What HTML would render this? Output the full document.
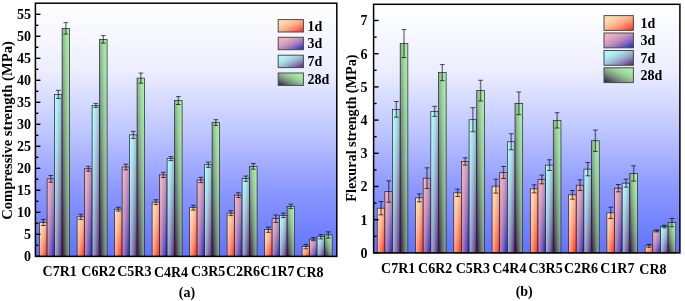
<!DOCTYPE html>
<html><head><meta charset="utf-8"><style>
html,body{margin:0;padding:0;background:#fff;}
body{width:685px;height:301px;overflow:hidden;}
svg{display:block;font-family:"Liberation Serif", serif;will-change:transform;filter:blur(0.45px);}
</style></head><body>
<svg width="685" height="301" viewBox="0 0 685 301">
<defs><linearGradient id="ag0" x1="0" y1="0" x2="1" y2="1"><stop offset="0" stop-color="#fde0b4"/><stop offset="0.05" stop-color="#fde0b4"/><stop offset="0.1" stop-color="#fddeb2"/><stop offset="0.15" stop-color="#fddcb0"/><stop offset="0.2" stop-color="#fdd8ad"/><stop offset="0.25" stop-color="#fdd4aa"/><stop offset="0.3" stop-color="#fdcfa5"/><stop offset="0.35" stop-color="#fdc8a0"/><stop offset="0.4" stop-color="#fdc19a"/><stop offset="0.45" stop-color="#fdb993"/><stop offset="0.5" stop-color="#feb08b"/><stop offset="0.55" stop-color="#fea682"/><stop offset="0.6" stop-color="#fe9b79"/><stop offset="0.65" stop-color="#fe8f6f"/><stop offset="0.7" stop-color="#fe8264"/><stop offset="0.75" stop-color="#fe7458"/><stop offset="0.8" stop-color="#fe654b"/><stop offset="0.85" stop-color="#fe553e"/><stop offset="0.9" stop-color="#ff442f"/><stop offset="0.95" stop-color="#ff3320"/><stop offset="1" stop-color="#ff2010"/></linearGradient>
<linearGradient id="ad0" x1="0" y1="0" x2="1" y2="1"><stop offset="0" stop-color="#fde0b4"/><stop offset="0.05" stop-color="#fddfb3"/><stop offset="0.1" stop-color="#fdddb1"/><stop offset="0.15" stop-color="#fddaaf"/><stop offset="0.2" stop-color="#fdd5ab"/><stop offset="0.25" stop-color="#fdd0a6"/><stop offset="0.3" stop-color="#fdcaa1"/><stop offset="0.35" stop-color="#fdc39b"/><stop offset="0.4" stop-color="#fdbb94"/><stop offset="0.45" stop-color="#fdb28d"/><stop offset="0.5" stop-color="#fea985"/><stop offset="0.55" stop-color="#fe9f7c"/><stop offset="0.6" stop-color="#fe9373"/><stop offset="0.65" stop-color="#fe8868"/><stop offset="0.7" stop-color="#fe7b5e"/><stop offset="0.75" stop-color="#fe6e52"/><stop offset="0.8" stop-color="#fe6046"/><stop offset="0.85" stop-color="#fe513a"/><stop offset="0.9" stop-color="#ff412c"/><stop offset="0.95" stop-color="#ff311e"/><stop offset="1" stop-color="#ff2010"/></linearGradient>
<linearGradient id="ag1" x1="0" y1="0" x2="1" y2="1"><stop offset="0" stop-color="#f4b4bc"/><stop offset="0.05" stop-color="#f3b4bc"/><stop offset="0.1" stop-color="#f2b2bc"/><stop offset="0.15" stop-color="#efb1bc"/><stop offset="0.2" stop-color="#ebaebc"/><stop offset="0.25" stop-color="#e6aabc"/><stop offset="0.3" stop-color="#e0a6bc"/><stop offset="0.35" stop-color="#d9a1bc"/><stop offset="0.4" stop-color="#d19bbd"/><stop offset="0.45" stop-color="#c895bd"/><stop offset="0.5" stop-color="#be8ebd"/><stop offset="0.55" stop-color="#b285bd"/><stop offset="0.6" stop-color="#a67dbd"/><stop offset="0.65" stop-color="#9873be"/><stop offset="0.7" stop-color="#8969be"/><stop offset="0.75" stop-color="#795dbe"/><stop offset="0.8" stop-color="#6851bf"/><stop offset="0.85" stop-color="#5645bf"/><stop offset="0.9" stop-color="#4337bf"/><stop offset="0.95" stop-color="#2f29c0"/><stop offset="1" stop-color="#1a1ac0"/></linearGradient>
<linearGradient id="ad1" x1="0" y1="0" x2="1" y2="1"><stop offset="0" stop-color="#f4b4bc"/><stop offset="0.05" stop-color="#f3b3bc"/><stop offset="0.1" stop-color="#f1b2bc"/><stop offset="0.15" stop-color="#edafbc"/><stop offset="0.2" stop-color="#e8acbc"/><stop offset="0.25" stop-color="#e2a7bc"/><stop offset="0.3" stop-color="#dba2bc"/><stop offset="0.35" stop-color="#d39dbd"/><stop offset="0.4" stop-color="#ca96bd"/><stop offset="0.45" stop-color="#c08fbd"/><stop offset="0.5" stop-color="#b588bd"/><stop offset="0.55" stop-color="#aa7fbd"/><stop offset="0.6" stop-color="#9d77be"/><stop offset="0.65" stop-color="#906dbe"/><stop offset="0.7" stop-color="#8163be"/><stop offset="0.75" stop-color="#7258be"/><stop offset="0.8" stop-color="#624dbf"/><stop offset="0.85" stop-color="#5141bf"/><stop offset="0.9" stop-color="#4035bf"/><stop offset="0.95" stop-color="#2d28c0"/><stop offset="1" stop-color="#1a1ac0"/></linearGradient>
<linearGradient id="ag2" x1="0" y1="0" x2="1" y2="1"><stop offset="0" stop-color="#b4fafa"/><stop offset="0.05" stop-color="#b4f9fa"/><stop offset="0.1" stop-color="#b3f8f9"/><stop offset="0.15" stop-color="#b2f5f7"/><stop offset="0.2" stop-color="#b0f1f4"/><stop offset="0.25" stop-color="#aeecf1"/><stop offset="0.3" stop-color="#ace5ee"/><stop offset="0.35" stop-color="#a9dee9"/><stop offset="0.4" stop-color="#a6d5e4"/><stop offset="0.45" stop-color="#a2cbde"/><stop offset="0.5" stop-color="#9ec0d8"/><stop offset="0.55" stop-color="#99b4d0"/><stop offset="0.6" stop-color="#94a7c8"/><stop offset="0.65" stop-color="#8e99c0"/><stop offset="0.7" stop-color="#8889b6"/><stop offset="0.75" stop-color="#8179ac"/><stop offset="0.8" stop-color="#7a67a2"/><stop offset="0.85" stop-color="#735496"/><stop offset="0.9" stop-color="#6b408a"/><stop offset="0.95" stop-color="#632a7d"/><stop offset="1" stop-color="#5a1470"/></linearGradient>
<linearGradient id="ad2" x1="0" y1="0" x2="1" y2="1"><stop offset="0" stop-color="#b4fafa"/><stop offset="0.05" stop-color="#b4f9f9"/><stop offset="0.1" stop-color="#b3f6f8"/><stop offset="0.15" stop-color="#b1f2f5"/><stop offset="0.2" stop-color="#afedf2"/><stop offset="0.25" stop-color="#ade7ef"/><stop offset="0.3" stop-color="#aae0ea"/><stop offset="0.35" stop-color="#a6d7e5"/><stop offset="0.4" stop-color="#a3cedf"/><stop offset="0.45" stop-color="#9fc3d9"/><stop offset="0.5" stop-color="#9ab8d2"/><stop offset="0.55" stop-color="#95accb"/><stop offset="0.6" stop-color="#909ec3"/><stop offset="0.65" stop-color="#8b90ba"/><stop offset="0.7" stop-color="#8581b1"/><stop offset="0.75" stop-color="#7e71a8"/><stop offset="0.8" stop-color="#78609e"/><stop offset="0.85" stop-color="#714e93"/><stop offset="0.9" stop-color="#6a3c88"/><stop offset="0.95" stop-color="#62287c"/><stop offset="1" stop-color="#5a1470"/></linearGradient>
<linearGradient id="ag3" x1="1" y1="0" x2="0" y2="1"><stop offset="0" stop-color="#acf0a8"/><stop offset="0.05" stop-color="#acefa8"/><stop offset="0.1" stop-color="#abeea7"/><stop offset="0.15" stop-color="#a9eba6"/><stop offset="0.2" stop-color="#a7e7a4"/><stop offset="0.25" stop-color="#a4e2a1"/><stop offset="0.3" stop-color="#a0db9e"/><stop offset="0.35" stop-color="#9cd49b"/><stop offset="0.4" stop-color="#98cc97"/><stop offset="0.45" stop-color="#92c292"/><stop offset="0.5" stop-color="#8cb78d"/><stop offset="0.55" stop-color="#85ab87"/><stop offset="0.6" stop-color="#7e9e81"/><stop offset="0.65" stop-color="#76907a"/><stop offset="0.7" stop-color="#6d8073"/><stop offset="0.75" stop-color="#64706b"/><stop offset="0.8" stop-color="#5a5e63"/><stop offset="0.85" stop-color="#504b5a"/><stop offset="0.9" stop-color="#443751"/><stop offset="0.95" stop-color="#382247"/><stop offset="1" stop-color="#2c0c3c"/></linearGradient>
<linearGradient id="ad3" x1="1" y1="0" x2="0" y2="1"><stop offset="0" stop-color="#acf0a8"/><stop offset="0.05" stop-color="#abefa8"/><stop offset="0.1" stop-color="#aaeca6"/><stop offset="0.15" stop-color="#a8e9a4"/><stop offset="0.2" stop-color="#a5e3a2"/><stop offset="0.25" stop-color="#a1dd9f"/><stop offset="0.3" stop-color="#9dd69c"/><stop offset="0.35" stop-color="#99ce98"/><stop offset="0.4" stop-color="#93c493"/><stop offset="0.45" stop-color="#8eba8e"/><stop offset="0.5" stop-color="#87af89"/><stop offset="0.55" stop-color="#80a283"/><stop offset="0.6" stop-color="#79957d"/><stop offset="0.65" stop-color="#718776"/><stop offset="0.7" stop-color="#69786f"/><stop offset="0.75" stop-color="#606868"/><stop offset="0.8" stop-color="#565760"/><stop offset="0.85" stop-color="#4c4657"/><stop offset="0.9" stop-color="#42334f"/><stop offset="0.95" stop-color="#372046"/><stop offset="1" stop-color="#2c0c3c"/></linearGradient>
<linearGradient id="bg0" x1="0" y1="0" x2="1" y2="1"><stop offset="0" stop-color="#fde0b4"/><stop offset="0.05" stop-color="#fde0b4"/><stop offset="0.1" stop-color="#fddeb2"/><stop offset="0.15" stop-color="#fddcb0"/><stop offset="0.2" stop-color="#fdd8ad"/><stop offset="0.25" stop-color="#fdd4aa"/><stop offset="0.3" stop-color="#fdcfa5"/><stop offset="0.35" stop-color="#fdc8a0"/><stop offset="0.4" stop-color="#fdc19a"/><stop offset="0.45" stop-color="#fdb993"/><stop offset="0.5" stop-color="#feb08b"/><stop offset="0.55" stop-color="#fea682"/><stop offset="0.6" stop-color="#fe9b79"/><stop offset="0.65" stop-color="#fe8f6f"/><stop offset="0.7" stop-color="#fe8264"/><stop offset="0.75" stop-color="#fe7458"/><stop offset="0.8" stop-color="#fe654b"/><stop offset="0.85" stop-color="#fe553e"/><stop offset="0.9" stop-color="#ff442f"/><stop offset="0.95" stop-color="#ff3320"/><stop offset="1" stop-color="#ff2010"/></linearGradient>
<linearGradient id="bd0" x1="0" y1="0" x2="1" y2="1"><stop offset="0" stop-color="#fde0b4"/><stop offset="0.05" stop-color="#fddfb3"/><stop offset="0.1" stop-color="#fdddb1"/><stop offset="0.15" stop-color="#fddaaf"/><stop offset="0.2" stop-color="#fdd5ab"/><stop offset="0.25" stop-color="#fdd0a6"/><stop offset="0.3" stop-color="#fdcaa1"/><stop offset="0.35" stop-color="#fdc39b"/><stop offset="0.4" stop-color="#fdbb94"/><stop offset="0.45" stop-color="#fdb28d"/><stop offset="0.5" stop-color="#fea985"/><stop offset="0.55" stop-color="#fe9f7c"/><stop offset="0.6" stop-color="#fe9373"/><stop offset="0.65" stop-color="#fe8868"/><stop offset="0.7" stop-color="#fe7b5e"/><stop offset="0.75" stop-color="#fe6e52"/><stop offset="0.8" stop-color="#fe6046"/><stop offset="0.85" stop-color="#fe513a"/><stop offset="0.9" stop-color="#ff412c"/><stop offset="0.95" stop-color="#ff311e"/><stop offset="1" stop-color="#ff2010"/></linearGradient>
<linearGradient id="bg1" x1="0" y1="0" x2="1" y2="1"><stop offset="0" stop-color="#f4b4bc"/><stop offset="0.05" stop-color="#f3b4bc"/><stop offset="0.1" stop-color="#f2b2bc"/><stop offset="0.15" stop-color="#efb1bc"/><stop offset="0.2" stop-color="#ebaebc"/><stop offset="0.25" stop-color="#e6aabc"/><stop offset="0.3" stop-color="#e0a6bc"/><stop offset="0.35" stop-color="#d9a1bc"/><stop offset="0.4" stop-color="#d19bbd"/><stop offset="0.45" stop-color="#c895bd"/><stop offset="0.5" stop-color="#be8ebd"/><stop offset="0.55" stop-color="#b285bd"/><stop offset="0.6" stop-color="#a67dbd"/><stop offset="0.65" stop-color="#9873be"/><stop offset="0.7" stop-color="#8969be"/><stop offset="0.75" stop-color="#795dbe"/><stop offset="0.8" stop-color="#6851bf"/><stop offset="0.85" stop-color="#5645bf"/><stop offset="0.9" stop-color="#4337bf"/><stop offset="0.95" stop-color="#2f29c0"/><stop offset="1" stop-color="#1a1ac0"/></linearGradient>
<linearGradient id="bd1" x1="0" y1="0" x2="1" y2="1"><stop offset="0" stop-color="#f4b4bc"/><stop offset="0.05" stop-color="#f3b3bc"/><stop offset="0.1" stop-color="#f1b2bc"/><stop offset="0.15" stop-color="#edafbc"/><stop offset="0.2" stop-color="#e8acbc"/><stop offset="0.25" stop-color="#e2a7bc"/><stop offset="0.3" stop-color="#dba2bc"/><stop offset="0.35" stop-color="#d39dbd"/><stop offset="0.4" stop-color="#ca96bd"/><stop offset="0.45" stop-color="#c08fbd"/><stop offset="0.5" stop-color="#b588bd"/><stop offset="0.55" stop-color="#aa7fbd"/><stop offset="0.6" stop-color="#9d77be"/><stop offset="0.65" stop-color="#906dbe"/><stop offset="0.7" stop-color="#8163be"/><stop offset="0.75" stop-color="#7258be"/><stop offset="0.8" stop-color="#624dbf"/><stop offset="0.85" stop-color="#5141bf"/><stop offset="0.9" stop-color="#4035bf"/><stop offset="0.95" stop-color="#2d28c0"/><stop offset="1" stop-color="#1a1ac0"/></linearGradient>
<linearGradient id="bg2" x1="0" y1="0" x2="1" y2="1"><stop offset="0" stop-color="#b4fafa"/><stop offset="0.05" stop-color="#b4f9fa"/><stop offset="0.1" stop-color="#b3f8f9"/><stop offset="0.15" stop-color="#b2f5f7"/><stop offset="0.2" stop-color="#b0f1f4"/><stop offset="0.25" stop-color="#aeecf1"/><stop offset="0.3" stop-color="#ace5ee"/><stop offset="0.35" stop-color="#a9dee9"/><stop offset="0.4" stop-color="#a6d5e4"/><stop offset="0.45" stop-color="#a2cbde"/><stop offset="0.5" stop-color="#9ec0d8"/><stop offset="0.55" stop-color="#99b4d0"/><stop offset="0.6" stop-color="#94a7c8"/><stop offset="0.65" stop-color="#8e99c0"/><stop offset="0.7" stop-color="#8889b6"/><stop offset="0.75" stop-color="#8179ac"/><stop offset="0.8" stop-color="#7a67a2"/><stop offset="0.85" stop-color="#735496"/><stop offset="0.9" stop-color="#6b408a"/><stop offset="0.95" stop-color="#632a7d"/><stop offset="1" stop-color="#5a1470"/></linearGradient>
<linearGradient id="bd2" x1="0" y1="0" x2="1" y2="1"><stop offset="0" stop-color="#b4fafa"/><stop offset="0.05" stop-color="#b4f9f9"/><stop offset="0.1" stop-color="#b3f6f8"/><stop offset="0.15" stop-color="#b1f2f5"/><stop offset="0.2" stop-color="#afedf2"/><stop offset="0.25" stop-color="#ade7ef"/><stop offset="0.3" stop-color="#aae0ea"/><stop offset="0.35" stop-color="#a6d7e5"/><stop offset="0.4" stop-color="#a3cedf"/><stop offset="0.45" stop-color="#9fc3d9"/><stop offset="0.5" stop-color="#9ab8d2"/><stop offset="0.55" stop-color="#95accb"/><stop offset="0.6" stop-color="#909ec3"/><stop offset="0.65" stop-color="#8b90ba"/><stop offset="0.7" stop-color="#8581b1"/><stop offset="0.75" stop-color="#7e71a8"/><stop offset="0.8" stop-color="#78609e"/><stop offset="0.85" stop-color="#714e93"/><stop offset="0.9" stop-color="#6a3c88"/><stop offset="0.95" stop-color="#62287c"/><stop offset="1" stop-color="#5a1470"/></linearGradient>
<linearGradient id="bg3" x1="1" y1="0" x2="0" y2="1"><stop offset="0" stop-color="#acf0a8"/><stop offset="0.05" stop-color="#acefa8"/><stop offset="0.1" stop-color="#abeea7"/><stop offset="0.15" stop-color="#a9eba6"/><stop offset="0.2" stop-color="#a7e7a4"/><stop offset="0.25" stop-color="#a4e2a1"/><stop offset="0.3" stop-color="#a0db9e"/><stop offset="0.35" stop-color="#9cd49b"/><stop offset="0.4" stop-color="#98cc97"/><stop offset="0.45" stop-color="#92c292"/><stop offset="0.5" stop-color="#8cb78d"/><stop offset="0.55" stop-color="#85ab87"/><stop offset="0.6" stop-color="#7e9e81"/><stop offset="0.65" stop-color="#76907a"/><stop offset="0.7" stop-color="#6d8073"/><stop offset="0.75" stop-color="#64706b"/><stop offset="0.8" stop-color="#5a5e63"/><stop offset="0.85" stop-color="#504b5a"/><stop offset="0.9" stop-color="#443751"/><stop offset="0.95" stop-color="#382247"/><stop offset="1" stop-color="#2c0c3c"/></linearGradient>
<linearGradient id="bd3" x1="1" y1="0" x2="0" y2="1"><stop offset="0" stop-color="#acf0a8"/><stop offset="0.05" stop-color="#abefa8"/><stop offset="0.1" stop-color="#aaeca6"/><stop offset="0.15" stop-color="#a8e9a4"/><stop offset="0.2" stop-color="#a5e3a2"/><stop offset="0.25" stop-color="#a1dd9f"/><stop offset="0.3" stop-color="#9dd69c"/><stop offset="0.35" stop-color="#99ce98"/><stop offset="0.4" stop-color="#93c493"/><stop offset="0.45" stop-color="#8eba8e"/><stop offset="0.5" stop-color="#87af89"/><stop offset="0.55" stop-color="#80a283"/><stop offset="0.6" stop-color="#79957d"/><stop offset="0.65" stop-color="#718776"/><stop offset="0.7" stop-color="#69786f"/><stop offset="0.75" stop-color="#606868"/><stop offset="0.8" stop-color="#565760"/><stop offset="0.85" stop-color="#4c4657"/><stop offset="0.9" stop-color="#42334f"/><stop offset="0.95" stop-color="#372046"/><stop offset="1" stop-color="#2c0c3c"/></linearGradient>
<linearGradient id="bg" x1="0" y1="0" x2="0" y2="1"><stop offset="0" stop-color="#ffffff"/><stop offset="0.265" stop-color="#eceeff"/><stop offset="0.5" stop-color="#c0c8ff"/><stop offset="0.74" stop-color="#8c98ff"/><stop offset="1" stop-color="#5f73ff"/></linearGradient></defs>
<rect x="35.4" y="3.2" width="301.4" height="253.2" fill="url(#bg)"/>
<rect x="39.6" y="222.42" width="7.5" height="33.88" fill="url(#ad0)"/>
<rect x="39.6" y="222.42" width="7.5" height="33.88" fill="none" stroke="#202030" stroke-width="0.7"/>
<path d="M43.35 219.34V225.5" stroke="#000" stroke-opacity="0.5" stroke-width="1.4" fill="none"/>
<path d="M40.95 219.34H45.75M40.95 225.5H45.75" stroke="#000" stroke-opacity="0.66" stroke-width="1" fill="none"/>
<rect x="47.1" y="178.86" width="7.5" height="77.44" fill="url(#ad1)"/>
<rect x="47.1" y="178.86" width="7.5" height="77.44" fill="none" stroke="#202030" stroke-width="0.7"/>
<path d="M50.85 175.47V182.25" stroke="#000" stroke-opacity="0.5" stroke-width="1.4" fill="none"/>
<path d="M48.45 175.47H53.25M48.45 182.25H53.25" stroke="#000" stroke-opacity="0.66" stroke-width="1" fill="none"/>
<rect x="54.6" y="94.38" width="7.5" height="161.92" fill="url(#ad2)"/>
<rect x="54.6" y="94.38" width="7.5" height="161.92" fill="none" stroke="#202030" stroke-width="0.7"/>
<path d="M58.35 90.33V98.43" stroke="#000" stroke-opacity="0.5" stroke-width="1.4" fill="none"/>
<path d="M55.95 90.33H60.75M55.95 98.43H60.75" stroke="#000" stroke-opacity="0.66" stroke-width="1" fill="none"/>
<rect x="62.1" y="28.38" width="7.5" height="227.92" fill="url(#ad3)"/>
<rect x="62.1" y="28.38" width="7.5" height="227.92" fill="none" stroke="#202030" stroke-width="0.7"/>
<path d="M65.85 22.66V34.1" stroke="#000" stroke-opacity="0.5" stroke-width="1.4" fill="none"/>
<path d="M63.45 22.66H68.25M63.45 34.1H68.25" stroke="#000" stroke-opacity="0.66" stroke-width="1" fill="none"/>
<rect x="77.1" y="216.92" width="7.5" height="39.38" fill="url(#ad0)"/>
<rect x="77.1" y="216.92" width="7.5" height="39.38" fill="none" stroke="#202030" stroke-width="0.7"/>
<path d="M80.85 214.28V219.56" stroke="#000" stroke-opacity="0.5" stroke-width="1.4" fill="none"/>
<path d="M78.45 214.28H83.25M78.45 219.56H83.25" stroke="#000" stroke-opacity="0.66" stroke-width="1" fill="none"/>
<rect x="84.6" y="168.74" width="7.5" height="87.56" fill="url(#ad1)"/>
<rect x="84.6" y="168.74" width="7.5" height="87.56" fill="none" stroke="#202030" stroke-width="0.7"/>
<path d="M88.35 166.32V171.16" stroke="#000" stroke-opacity="0.5" stroke-width="1.4" fill="none"/>
<path d="M85.95 166.32H90.75M85.95 171.16H90.75" stroke="#000" stroke-opacity="0.66" stroke-width="1" fill="none"/>
<rect x="92.1" y="105.38" width="7.5" height="150.92" fill="url(#ad2)"/>
<rect x="92.1" y="105.38" width="7.5" height="150.92" fill="none" stroke="#202030" stroke-width="0.7"/>
<path d="M95.85 103.4V107.36" stroke="#000" stroke-opacity="0.5" stroke-width="1.4" fill="none"/>
<path d="M93.45 103.4H98.25M93.45 107.36H98.25" stroke="#000" stroke-opacity="0.66" stroke-width="1" fill="none"/>
<rect x="99.6" y="39.38" width="7.5" height="216.92" fill="url(#ad3)"/>
<rect x="99.6" y="39.38" width="7.5" height="216.92" fill="none" stroke="#202030" stroke-width="0.7"/>
<path d="M103.35 35.6V43.16" stroke="#000" stroke-opacity="0.5" stroke-width="1.4" fill="none"/>
<path d="M100.95 35.6H105.75M100.95 43.16H105.75" stroke="#000" stroke-opacity="0.66" stroke-width="1" fill="none"/>
<rect x="114.6" y="209.22" width="7.5" height="47.08" fill="url(#ad0)"/>
<rect x="114.6" y="209.22" width="7.5" height="47.08" fill="none" stroke="#202030" stroke-width="0.7"/>
<path d="M118.35 207.24V211.2" stroke="#000" stroke-opacity="0.5" stroke-width="1.4" fill="none"/>
<path d="M115.95 207.24H120.75M115.95 211.2H120.75" stroke="#000" stroke-opacity="0.66" stroke-width="1" fill="none"/>
<rect x="122.1" y="166.98" width="7.5" height="89.32" fill="url(#ad1)"/>
<rect x="122.1" y="166.98" width="7.5" height="89.32" fill="none" stroke="#202030" stroke-width="0.7"/>
<path d="M125.85 164.12V169.84" stroke="#000" stroke-opacity="0.5" stroke-width="1.4" fill="none"/>
<path d="M123.45 164.12H128.25M123.45 169.84H128.25" stroke="#000" stroke-opacity="0.66" stroke-width="1" fill="none"/>
<rect x="129.6" y="134.86" width="7.5" height="121.44" fill="url(#ad2)"/>
<rect x="129.6" y="134.86" width="7.5" height="121.44" fill="none" stroke="#202030" stroke-width="0.7"/>
<path d="M133.35 131.34V138.38" stroke="#000" stroke-opacity="0.5" stroke-width="1.4" fill="none"/>
<path d="M130.95 131.34H135.75M130.95 138.38H135.75" stroke="#000" stroke-opacity="0.66" stroke-width="1" fill="none"/>
<rect x="137.1" y="78.1" width="7.5" height="178.2" fill="url(#ad3)"/>
<rect x="137.1" y="78.1" width="7.5" height="178.2" fill="none" stroke="#202030" stroke-width="0.7"/>
<path d="M140.85 73.04V83.16" stroke="#000" stroke-opacity="0.5" stroke-width="1.4" fill="none"/>
<path d="M138.45 73.04H143.25M138.45 83.16H143.25" stroke="#000" stroke-opacity="0.66" stroke-width="1" fill="none"/>
<rect x="152.1" y="202.18" width="7.5" height="54.12" fill="url(#ad0)"/>
<rect x="152.1" y="202.18" width="7.5" height="54.12" fill="none" stroke="#202030" stroke-width="0.7"/>
<path d="M155.85 199.76V204.6" stroke="#000" stroke-opacity="0.5" stroke-width="1.4" fill="none"/>
<path d="M153.45 199.76H158.25M153.45 204.6H158.25" stroke="#000" stroke-opacity="0.66" stroke-width="1" fill="none"/>
<rect x="159.6" y="174.9" width="7.5" height="81.4" fill="url(#ad1)"/>
<rect x="159.6" y="174.9" width="7.5" height="81.4" fill="none" stroke="#202030" stroke-width="0.7"/>
<path d="M163.35 172.26V177.54" stroke="#000" stroke-opacity="0.5" stroke-width="1.4" fill="none"/>
<path d="M160.95 172.26H165.75M160.95 177.54H165.75" stroke="#000" stroke-opacity="0.66" stroke-width="1" fill="none"/>
<rect x="167.1" y="158.62" width="7.5" height="97.68" fill="url(#ad2)"/>
<rect x="167.1" y="158.62" width="7.5" height="97.68" fill="none" stroke="#202030" stroke-width="0.7"/>
<path d="M170.85 156.64V160.6" stroke="#000" stroke-opacity="0.5" stroke-width="1.4" fill="none"/>
<path d="M168.45 156.64H173.25M168.45 160.6H173.25" stroke="#000" stroke-opacity="0.66" stroke-width="1" fill="none"/>
<rect x="174.6" y="100.54" width="7.5" height="155.76" fill="url(#ad3)"/>
<rect x="174.6" y="100.54" width="7.5" height="155.76" fill="none" stroke="#202030" stroke-width="0.7"/>
<path d="M178.35 96.58V104.5" stroke="#000" stroke-opacity="0.5" stroke-width="1.4" fill="none"/>
<path d="M175.95 96.58H180.75M175.95 104.5H180.75" stroke="#000" stroke-opacity="0.66" stroke-width="1" fill="none"/>
<rect x="189.6" y="207.68" width="7.5" height="48.62" fill="url(#ad0)"/>
<rect x="189.6" y="207.68" width="7.5" height="48.62" fill="none" stroke="#202030" stroke-width="0.7"/>
<path d="M193.35 205.26V210.1" stroke="#000" stroke-opacity="0.5" stroke-width="1.4" fill="none"/>
<path d="M190.95 205.26H195.75M190.95 210.1H195.75" stroke="#000" stroke-opacity="0.66" stroke-width="1" fill="none"/>
<rect x="197.1" y="179.96" width="7.5" height="76.34" fill="url(#ad1)"/>
<rect x="197.1" y="179.96" width="7.5" height="76.34" fill="none" stroke="#202030" stroke-width="0.7"/>
<path d="M200.85 177.32V182.6" stroke="#000" stroke-opacity="0.5" stroke-width="1.4" fill="none"/>
<path d="M198.45 177.32H203.25M198.45 182.6H203.25" stroke="#000" stroke-opacity="0.66" stroke-width="1" fill="none"/>
<rect x="204.6" y="164.78" width="7.5" height="91.52" fill="url(#ad2)"/>
<rect x="204.6" y="164.78" width="7.5" height="91.52" fill="none" stroke="#202030" stroke-width="0.7"/>
<path d="M208.35 162.14V167.42" stroke="#000" stroke-opacity="0.5" stroke-width="1.4" fill="none"/>
<path d="M205.95 162.14H210.75M205.95 167.42H210.75" stroke="#000" stroke-opacity="0.66" stroke-width="1" fill="none"/>
<rect x="212.1" y="122.54" width="7.5" height="133.76" fill="url(#ad3)"/>
<rect x="212.1" y="122.54" width="7.5" height="133.76" fill="none" stroke="#202030" stroke-width="0.7"/>
<path d="M215.85 119.68V125.4" stroke="#000" stroke-opacity="0.5" stroke-width="1.4" fill="none"/>
<path d="M213.45 119.68H218.25M213.45 125.4H218.25" stroke="#000" stroke-opacity="0.66" stroke-width="1" fill="none"/>
<rect x="227.1" y="213.18" width="7.5" height="43.12" fill="url(#ad0)"/>
<rect x="227.1" y="213.18" width="7.5" height="43.12" fill="none" stroke="#202030" stroke-width="0.7"/>
<path d="M230.85 210.76V215.6" stroke="#000" stroke-opacity="0.5" stroke-width="1.4" fill="none"/>
<path d="M228.45 210.76H233.25M228.45 215.6H233.25" stroke="#000" stroke-opacity="0.66" stroke-width="1" fill="none"/>
<rect x="234.6" y="195.14" width="7.5" height="61.16" fill="url(#ad1)"/>
<rect x="234.6" y="195.14" width="7.5" height="61.16" fill="none" stroke="#202030" stroke-width="0.7"/>
<path d="M238.35 192.72V197.56" stroke="#000" stroke-opacity="0.5" stroke-width="1.4" fill="none"/>
<path d="M235.95 192.72H240.75M235.95 197.56H240.75" stroke="#000" stroke-opacity="0.66" stroke-width="1" fill="none"/>
<rect x="242.1" y="178.64" width="7.5" height="77.66" fill="url(#ad2)"/>
<rect x="242.1" y="178.64" width="7.5" height="77.66" fill="none" stroke="#202030" stroke-width="0.7"/>
<path d="M245.85 176V181.28" stroke="#000" stroke-opacity="0.5" stroke-width="1.4" fill="none"/>
<path d="M243.45 176H248.25M243.45 181.28H248.25" stroke="#000" stroke-opacity="0.66" stroke-width="1" fill="none"/>
<rect x="249.6" y="166.32" width="7.5" height="89.98" fill="url(#ad3)"/>
<rect x="249.6" y="166.32" width="7.5" height="89.98" fill="none" stroke="#202030" stroke-width="0.7"/>
<path d="M253.35 163.46V169.18" stroke="#000" stroke-opacity="0.5" stroke-width="1.4" fill="none"/>
<path d="M250.95 163.46H255.75M250.95 169.18H255.75" stroke="#000" stroke-opacity="0.66" stroke-width="1" fill="none"/>
<rect x="264.6" y="229.68" width="7.5" height="26.62" fill="url(#ad0)"/>
<rect x="264.6" y="229.68" width="7.5" height="26.62" fill="none" stroke="#202030" stroke-width="0.7"/>
<path d="M268.35 227.04V232.32" stroke="#000" stroke-opacity="0.5" stroke-width="1.4" fill="none"/>
<path d="M265.95 227.04H270.75M265.95 232.32H270.75" stroke="#000" stroke-opacity="0.66" stroke-width="1" fill="none"/>
<rect x="272.1" y="218.68" width="7.5" height="37.62" fill="url(#ad1)"/>
<rect x="272.1" y="218.68" width="7.5" height="37.62" fill="none" stroke="#202030" stroke-width="0.7"/>
<path d="M275.85 214.94V222.42" stroke="#000" stroke-opacity="0.5" stroke-width="1.4" fill="none"/>
<path d="M273.45 214.94H278.25M273.45 222.42H278.25" stroke="#000" stroke-opacity="0.66" stroke-width="1" fill="none"/>
<rect x="279.6" y="215.38" width="7.5" height="40.92" fill="url(#ad2)"/>
<rect x="279.6" y="215.38" width="7.5" height="40.92" fill="none" stroke="#202030" stroke-width="0.7"/>
<path d="M283.35 213.18V217.58" stroke="#000" stroke-opacity="0.5" stroke-width="1.4" fill="none"/>
<path d="M280.95 213.18H285.75M280.95 217.58H285.75" stroke="#000" stroke-opacity="0.66" stroke-width="1" fill="none"/>
<rect x="287.1" y="206.36" width="7.5" height="49.94" fill="url(#ad3)"/>
<rect x="287.1" y="206.36" width="7.5" height="49.94" fill="none" stroke="#202030" stroke-width="0.7"/>
<path d="M290.85 204.16V208.56" stroke="#000" stroke-opacity="0.5" stroke-width="1.4" fill="none"/>
<path d="M288.45 204.16H293.25M288.45 208.56H293.25" stroke="#000" stroke-opacity="0.66" stroke-width="1" fill="none"/>
<rect x="302.1" y="246.62" width="7.5" height="9.68" fill="url(#ad0)"/>
<rect x="302.1" y="246.62" width="7.5" height="9.68" fill="none" stroke="#202030" stroke-width="0.7"/>
<path d="M305.85 244.42V248.82" stroke="#000" stroke-opacity="0.5" stroke-width="1.4" fill="none"/>
<path d="M303.45 244.42H308.25M303.45 248.82H308.25" stroke="#000" stroke-opacity="0.66" stroke-width="1" fill="none"/>
<rect x="309.6" y="239.14" width="7.5" height="17.16" fill="url(#ad1)"/>
<rect x="309.6" y="239.14" width="7.5" height="17.16" fill="none" stroke="#202030" stroke-width="0.7"/>
<path d="M313.35 237.6V240.68" stroke="#000" stroke-opacity="0.5" stroke-width="1.4" fill="none"/>
<path d="M310.95 237.6H315.75M310.95 240.68H315.75" stroke="#000" stroke-opacity="0.66" stroke-width="1" fill="none"/>
<rect x="317.1" y="236.72" width="7.5" height="19.58" fill="url(#ad2)"/>
<rect x="317.1" y="236.72" width="7.5" height="19.58" fill="none" stroke="#202030" stroke-width="0.7"/>
<path d="M320.85 234.52V238.92" stroke="#000" stroke-opacity="0.5" stroke-width="1.4" fill="none"/>
<path d="M318.45 234.52H323.25M318.45 238.92H323.25" stroke="#000" stroke-opacity="0.66" stroke-width="1" fill="none"/>
<rect x="324.6" y="234.96" width="7.5" height="21.34" fill="url(#ad3)"/>
<rect x="324.6" y="234.96" width="7.5" height="21.34" fill="none" stroke="#202030" stroke-width="0.7"/>
<path d="M328.35 231.88V238.04" stroke="#000" stroke-opacity="0.5" stroke-width="1.4" fill="none"/>
<path d="M325.95 231.88H330.75M325.95 238.04H330.75" stroke="#000" stroke-opacity="0.66" stroke-width="1" fill="none"/>
<rect x="35.4" y="3.2" width="301.4" height="253.2" fill="none" stroke="#000" stroke-width="1.5"/>
<path d="M35.4 256.3H40.4" stroke="#000" stroke-width="1.4"/>
<text x="31" y="261.1" text-anchor="end" font-size="14" font-weight="bold">0</text>
<path d="M35.4 245.3H38.4" stroke="#000" stroke-width="1.4"/>
<path d="M35.4 234.3H40.4" stroke="#000" stroke-width="1.4"/>
<text x="31" y="239.1" text-anchor="end" font-size="14" font-weight="bold">5</text>
<path d="M35.4 223.3H38.4" stroke="#000" stroke-width="1.4"/>
<path d="M35.4 212.3H40.4" stroke="#000" stroke-width="1.4"/>
<text x="31" y="217.1" text-anchor="end" font-size="14" font-weight="bold">10</text>
<path d="M35.4 201.3H38.4" stroke="#000" stroke-width="1.4"/>
<path d="M35.4 190.3H40.4" stroke="#000" stroke-width="1.4"/>
<text x="31" y="195.1" text-anchor="end" font-size="14" font-weight="bold">15</text>
<path d="M35.4 179.3H38.4" stroke="#000" stroke-width="1.4"/>
<path d="M35.4 168.3H40.4" stroke="#000" stroke-width="1.4"/>
<text x="31" y="173.1" text-anchor="end" font-size="14" font-weight="bold">20</text>
<path d="M35.4 157.3H38.4" stroke="#000" stroke-width="1.4"/>
<path d="M35.4 146.3H40.4" stroke="#000" stroke-width="1.4"/>
<text x="31" y="151.1" text-anchor="end" font-size="14" font-weight="bold">25</text>
<path d="M35.4 135.3H38.4" stroke="#000" stroke-width="1.4"/>
<path d="M35.4 124.3H40.4" stroke="#000" stroke-width="1.4"/>
<text x="31" y="129.1" text-anchor="end" font-size="14" font-weight="bold">30</text>
<path d="M35.4 113.3H38.4" stroke="#000" stroke-width="1.4"/>
<path d="M35.4 102.3H40.4" stroke="#000" stroke-width="1.4"/>
<text x="31" y="107.1" text-anchor="end" font-size="14" font-weight="bold">35</text>
<path d="M35.4 91.3H38.4" stroke="#000" stroke-width="1.4"/>
<path d="M35.4 80.3H40.4" stroke="#000" stroke-width="1.4"/>
<text x="31" y="85.1" text-anchor="end" font-size="14" font-weight="bold">40</text>
<path d="M35.4 69.3H38.4" stroke="#000" stroke-width="1.4"/>
<path d="M35.4 58.3H40.4" stroke="#000" stroke-width="1.4"/>
<text x="31" y="63.1" text-anchor="end" font-size="14" font-weight="bold">45</text>
<path d="M35.4 47.3H38.4" stroke="#000" stroke-width="1.4"/>
<path d="M35.4 36.3H40.4" stroke="#000" stroke-width="1.4"/>
<text x="31" y="41.1" text-anchor="end" font-size="14" font-weight="bold">50</text>
<path d="M35.4 25.3H38.4" stroke="#000" stroke-width="1.4"/>
<path d="M35.4 14.3H40.4" stroke="#000" stroke-width="1.4"/>
<text x="31" y="19.1" text-anchor="end" font-size="14" font-weight="bold">55</text>
<text x="59.7" y="276" text-anchor="middle" font-size="14" font-weight="bold">C7R1</text>
<text x="98.4" y="276" text-anchor="middle" font-size="14" font-weight="bold">C6R2</text>
<text x="134.3" y="276" text-anchor="middle" font-size="14" font-weight="bold">C5R3</text>
<text x="171" y="276.5" text-anchor="middle" font-size="14" font-weight="bold">C4R4</text>
<text x="208.2" y="276" text-anchor="middle" font-size="14" font-weight="bold">C3R5</text>
<text x="243" y="276" text-anchor="middle" font-size="14" font-weight="bold">C2R6</text>
<text x="277.4" y="276.4" text-anchor="middle" font-size="14" font-weight="bold">C1R7</text>
<text x="309.9" y="277.3" text-anchor="middle" font-size="14" font-weight="bold">CR8</text>
<text transform="translate(12 130.5) rotate(-90)" text-anchor="middle" font-size="14.6" font-weight="bold">Compressive strength (MPa)</text>
<rect x="278.2" y="19.6" width="25.2" height="12.4" fill="url(#ag0)" stroke="#4a4a4a" stroke-width="1.0"/>
<text x="307.6" y="30.6" font-size="14" font-weight="bold">1d</text>
<rect x="278.2" y="37.3" width="25.2" height="12.4" fill="url(#ag1)" stroke="#4a4a4a" stroke-width="1.0"/>
<text x="307.6" y="48.3" font-size="14" font-weight="bold">3d</text>
<rect x="278.2" y="55.2" width="25.2" height="12.4" fill="url(#ag2)" stroke="#4a4a4a" stroke-width="1.0"/>
<text x="307.6" y="66.2" font-size="14" font-weight="bold">7d</text>
<rect x="278.2" y="73" width="25.2" height="12.4" fill="url(#ag3)" stroke="#4a4a4a" stroke-width="1.0"/>
<text x="307.6" y="84" font-size="14" font-weight="bold">28d</text>
<text x="187" y="296.5" text-anchor="middle" font-size="14" font-weight="bold">(a)</text>
<rect x="373.6" y="4.3" width="306.3" height="248.6" fill="url(#bg)"/>
<rect x="377.23" y="208.21" width="7.66" height="44.69" fill="url(#bd0)"/>
<rect x="377.23" y="208.21" width="7.66" height="44.69" fill="none" stroke="#202030" stroke-width="0.7"/>
<path d="M381.05 201.53V214.89" stroke="#000" stroke-opacity="0.5" stroke-width="1.4" fill="none"/>
<path d="M378.65 201.53H383.45M378.65 214.89H383.45" stroke="#000" stroke-opacity="0.66" stroke-width="1" fill="none"/>
<rect x="384.88" y="191.51" width="7.66" height="61.39" fill="url(#bd1)"/>
<rect x="384.88" y="191.51" width="7.66" height="61.39" fill="none" stroke="#202030" stroke-width="0.7"/>
<path d="M388.71 180.82V202.2" stroke="#000" stroke-opacity="0.5" stroke-width="1.4" fill="none"/>
<path d="M386.31 180.82H391.11M386.31 202.2H391.11" stroke="#000" stroke-opacity="0.66" stroke-width="1" fill="none"/>
<rect x="392.54" y="109.35" width="7.66" height="143.55" fill="url(#bd2)"/>
<rect x="392.54" y="109.35" width="7.66" height="143.55" fill="none" stroke="#202030" stroke-width="0.7"/>
<path d="M396.36 101.5V117.2" stroke="#000" stroke-opacity="0.5" stroke-width="1.4" fill="none"/>
<path d="M393.96 101.5H398.76M393.96 117.2H398.76" stroke="#000" stroke-opacity="0.66" stroke-width="1" fill="none"/>
<rect x="400.19" y="43.55" width="7.66" height="209.35" fill="url(#bd3)"/>
<rect x="400.19" y="43.55" width="7.66" height="209.35" fill="none" stroke="#202030" stroke-width="0.7"/>
<path d="M404.02 29.52V57.58" stroke="#000" stroke-opacity="0.5" stroke-width="1.4" fill="none"/>
<path d="M401.62 29.52H406.42M401.62 57.58H406.42" stroke="#000" stroke-opacity="0.66" stroke-width="1" fill="none"/>
<rect x="415.5" y="197.86" width="7.66" height="55.04" fill="url(#bd0)"/>
<rect x="415.5" y="197.86" width="7.66" height="55.04" fill="none" stroke="#202030" stroke-width="0.7"/>
<path d="M419.33 193.85V201.86" stroke="#000" stroke-opacity="0.5" stroke-width="1.4" fill="none"/>
<path d="M416.93 193.85H421.73M416.93 201.86H421.73" stroke="#000" stroke-opacity="0.66" stroke-width="1" fill="none"/>
<rect x="423.16" y="178.15" width="7.66" height="74.75" fill="url(#bd1)"/>
<rect x="423.16" y="178.15" width="7.66" height="74.75" fill="none" stroke="#202030" stroke-width="0.7"/>
<path d="M426.98 167.8V188.5" stroke="#000" stroke-opacity="0.5" stroke-width="1.4" fill="none"/>
<path d="M424.58 167.8H429.38M424.58 188.5H429.38" stroke="#000" stroke-opacity="0.66" stroke-width="1" fill="none"/>
<rect x="430.81" y="111.35" width="7.66" height="141.55" fill="url(#bd2)"/>
<rect x="430.81" y="111.35" width="7.66" height="141.55" fill="none" stroke="#202030" stroke-width="0.7"/>
<path d="M434.64 106.34V116.36" stroke="#000" stroke-opacity="0.5" stroke-width="1.4" fill="none"/>
<path d="M432.24 106.34H437.04M432.24 116.36H437.04" stroke="#000" stroke-opacity="0.66" stroke-width="1" fill="none"/>
<rect x="438.47" y="72.61" width="7.66" height="180.29" fill="url(#bd3)"/>
<rect x="438.47" y="72.61" width="7.66" height="180.29" fill="none" stroke="#202030" stroke-width="0.7"/>
<path d="M442.29 64.59V80.62" stroke="#000" stroke-opacity="0.5" stroke-width="1.4" fill="none"/>
<path d="M439.89 64.59H444.69M439.89 80.62H444.69" stroke="#000" stroke-opacity="0.66" stroke-width="1" fill="none"/>
<rect x="453.78" y="192.85" width="7.66" height="60.05" fill="url(#bd0)"/>
<rect x="453.78" y="192.85" width="7.66" height="60.05" fill="none" stroke="#202030" stroke-width="0.7"/>
<path d="M457.6 189.17V196.52" stroke="#000" stroke-opacity="0.5" stroke-width="1.4" fill="none"/>
<path d="M455.2 189.17H460M455.2 196.52H460" stroke="#000" stroke-opacity="0.66" stroke-width="1" fill="none"/>
<rect x="461.43" y="161.45" width="7.66" height="91.45" fill="url(#bd1)"/>
<rect x="461.43" y="161.45" width="7.66" height="91.45" fill="none" stroke="#202030" stroke-width="0.7"/>
<path d="M465.26 157.78V165.12" stroke="#000" stroke-opacity="0.5" stroke-width="1.4" fill="none"/>
<path d="M462.86 157.78H467.66M462.86 165.12H467.66" stroke="#000" stroke-opacity="0.66" stroke-width="1" fill="none"/>
<rect x="469.09" y="119.7" width="7.66" height="133.2" fill="url(#bd2)"/>
<rect x="469.09" y="119.7" width="7.66" height="133.2" fill="none" stroke="#202030" stroke-width="0.7"/>
<path d="M472.91 107.68V131.72" stroke="#000" stroke-opacity="0.5" stroke-width="1.4" fill="none"/>
<path d="M470.51 107.68H475.31M470.51 131.72H475.31" stroke="#000" stroke-opacity="0.66" stroke-width="1" fill="none"/>
<rect x="476.74" y="90.64" width="7.66" height="162.26" fill="url(#bd3)"/>
<rect x="476.74" y="90.64" width="7.66" height="162.26" fill="none" stroke="#202030" stroke-width="0.7"/>
<path d="M480.57 80.29V101" stroke="#000" stroke-opacity="0.5" stroke-width="1.4" fill="none"/>
<path d="M478.17 80.29H482.97M478.17 101H482.97" stroke="#000" stroke-opacity="0.66" stroke-width="1" fill="none"/>
<rect x="492.05" y="186.17" width="7.66" height="66.73" fill="url(#bd0)"/>
<rect x="492.05" y="186.17" width="7.66" height="66.73" fill="none" stroke="#202030" stroke-width="0.7"/>
<path d="M495.88 179.15V193.18" stroke="#000" stroke-opacity="0.5" stroke-width="1.4" fill="none"/>
<path d="M493.48 179.15H498.28M493.48 193.18H498.28" stroke="#000" stroke-opacity="0.66" stroke-width="1" fill="none"/>
<rect x="499.71" y="172.47" width="7.66" height="80.43" fill="url(#bd1)"/>
<rect x="499.71" y="172.47" width="7.66" height="80.43" fill="none" stroke="#202030" stroke-width="0.7"/>
<path d="M503.53 166.46V178.48" stroke="#000" stroke-opacity="0.5" stroke-width="1.4" fill="none"/>
<path d="M501.13 166.46H505.93M501.13 178.48H505.93" stroke="#000" stroke-opacity="0.66" stroke-width="1" fill="none"/>
<rect x="507.36" y="141.74" width="7.66" height="111.16" fill="url(#bd2)"/>
<rect x="507.36" y="141.74" width="7.66" height="111.16" fill="none" stroke="#202030" stroke-width="0.7"/>
<path d="M511.19 133.73V149.76" stroke="#000" stroke-opacity="0.5" stroke-width="1.4" fill="none"/>
<path d="M508.79 133.73H513.59M508.79 149.76H513.59" stroke="#000" stroke-opacity="0.66" stroke-width="1" fill="none"/>
<rect x="515.02" y="103.33" width="7.66" height="149.57" fill="url(#bd3)"/>
<rect x="515.02" y="103.33" width="7.66" height="149.57" fill="none" stroke="#202030" stroke-width="0.7"/>
<path d="M518.85 91.98V114.69" stroke="#000" stroke-opacity="0.5" stroke-width="1.4" fill="none"/>
<path d="M516.45 91.98H521.25M516.45 114.69H521.25" stroke="#000" stroke-opacity="0.66" stroke-width="1" fill="none"/>
<rect x="530.33" y="188.84" width="7.66" height="64.06" fill="url(#bd0)"/>
<rect x="530.33" y="188.84" width="7.66" height="64.06" fill="none" stroke="#202030" stroke-width="0.7"/>
<path d="M534.15 184.83V192.85" stroke="#000" stroke-opacity="0.5" stroke-width="1.4" fill="none"/>
<path d="M531.75 184.83H536.55M531.75 192.85H536.55" stroke="#000" stroke-opacity="0.66" stroke-width="1" fill="none"/>
<rect x="537.98" y="179.49" width="7.66" height="73.41" fill="url(#bd1)"/>
<rect x="537.98" y="179.49" width="7.66" height="73.41" fill="none" stroke="#202030" stroke-width="0.7"/>
<path d="M541.81 175.14V183.83" stroke="#000" stroke-opacity="0.5" stroke-width="1.4" fill="none"/>
<path d="M539.41 175.14H544.21M539.41 183.83H544.21" stroke="#000" stroke-opacity="0.66" stroke-width="1" fill="none"/>
<rect x="545.64" y="165.12" width="7.66" height="87.78" fill="url(#bd2)"/>
<rect x="545.64" y="165.12" width="7.66" height="87.78" fill="none" stroke="#202030" stroke-width="0.7"/>
<path d="M549.47 159.78V170.47" stroke="#000" stroke-opacity="0.5" stroke-width="1.4" fill="none"/>
<path d="M547.07 159.78H551.87M547.07 170.47H551.87" stroke="#000" stroke-opacity="0.66" stroke-width="1" fill="none"/>
<rect x="553.29" y="120.37" width="7.66" height="132.53" fill="url(#bd3)"/>
<rect x="553.29" y="120.37" width="7.66" height="132.53" fill="none" stroke="#202030" stroke-width="0.7"/>
<path d="M557.12 112.69V128.05" stroke="#000" stroke-opacity="0.5" stroke-width="1.4" fill="none"/>
<path d="M554.72 112.69H559.52M554.72 128.05H559.52" stroke="#000" stroke-opacity="0.66" stroke-width="1" fill="none"/>
<rect x="568.6" y="194.85" width="7.66" height="58.05" fill="url(#bd0)"/>
<rect x="568.6" y="194.85" width="7.66" height="58.05" fill="none" stroke="#202030" stroke-width="0.7"/>
<path d="M572.43 190.51V199.19" stroke="#000" stroke-opacity="0.5" stroke-width="1.4" fill="none"/>
<path d="M570.03 190.51H574.83M570.03 199.19H574.83" stroke="#000" stroke-opacity="0.66" stroke-width="1" fill="none"/>
<rect x="576.26" y="185.16" width="7.66" height="67.74" fill="url(#bd1)"/>
<rect x="576.26" y="185.16" width="7.66" height="67.74" fill="none" stroke="#202030" stroke-width="0.7"/>
<path d="M580.08 179.82V190.51" stroke="#000" stroke-opacity="0.5" stroke-width="1.4" fill="none"/>
<path d="M577.68 179.82H582.48M577.68 190.51H582.48" stroke="#000" stroke-opacity="0.66" stroke-width="1" fill="none"/>
<rect x="583.91" y="169.13" width="7.66" height="83.77" fill="url(#bd2)"/>
<rect x="583.91" y="169.13" width="7.66" height="83.77" fill="none" stroke="#202030" stroke-width="0.7"/>
<path d="M587.74 162.45V175.81" stroke="#000" stroke-opacity="0.5" stroke-width="1.4" fill="none"/>
<path d="M585.34 162.45H590.14M585.34 175.81H590.14" stroke="#000" stroke-opacity="0.66" stroke-width="1" fill="none"/>
<rect x="591.57" y="140.74" width="7.66" height="112.16" fill="url(#bd3)"/>
<rect x="591.57" y="140.74" width="7.66" height="112.16" fill="none" stroke="#202030" stroke-width="0.7"/>
<path d="M595.39 130.05V151.43" stroke="#000" stroke-opacity="0.5" stroke-width="1.4" fill="none"/>
<path d="M593 130.05H597.79M593 151.43H597.79" stroke="#000" stroke-opacity="0.66" stroke-width="1" fill="none"/>
<rect x="606.88" y="212.89" width="7.66" height="40.01" fill="url(#bd0)"/>
<rect x="606.88" y="212.89" width="7.66" height="40.01" fill="none" stroke="#202030" stroke-width="0.7"/>
<path d="M610.7 207.21V218.56" stroke="#000" stroke-opacity="0.5" stroke-width="1.4" fill="none"/>
<path d="M608.3 207.21H613.1M608.3 218.56H613.1" stroke="#000" stroke-opacity="0.66" stroke-width="1" fill="none"/>
<rect x="614.53" y="188.17" width="7.66" height="64.73" fill="url(#bd1)"/>
<rect x="614.53" y="188.17" width="7.66" height="64.73" fill="none" stroke="#202030" stroke-width="0.7"/>
<path d="M618.36 184.5V191.84" stroke="#000" stroke-opacity="0.5" stroke-width="1.4" fill="none"/>
<path d="M615.96 184.5H620.76M615.96 191.84H620.76" stroke="#000" stroke-opacity="0.66" stroke-width="1" fill="none"/>
<rect x="622.19" y="183.16" width="7.66" height="69.74" fill="url(#bd2)"/>
<rect x="622.19" y="183.16" width="7.66" height="69.74" fill="none" stroke="#202030" stroke-width="0.7"/>
<path d="M626.01 179.15V187.17" stroke="#000" stroke-opacity="0.5" stroke-width="1.4" fill="none"/>
<path d="M623.62 179.15H628.41M623.62 187.17H628.41" stroke="#000" stroke-opacity="0.66" stroke-width="1" fill="none"/>
<rect x="629.84" y="173.47" width="7.66" height="79.43" fill="url(#bd3)"/>
<rect x="629.84" y="173.47" width="7.66" height="79.43" fill="none" stroke="#202030" stroke-width="0.7"/>
<path d="M633.67 165.79V181.16" stroke="#000" stroke-opacity="0.5" stroke-width="1.4" fill="none"/>
<path d="M631.27 165.79H636.07M631.27 181.16H636.07" stroke="#000" stroke-opacity="0.66" stroke-width="1" fill="none"/>
<rect x="645.15" y="245.95" width="7.66" height="6.95" fill="url(#bd0)"/>
<rect x="645.15" y="245.95" width="7.66" height="6.95" fill="none" stroke="#202030" stroke-width="0.7"/>
<path d="M648.98 244.28V247.62" stroke="#000" stroke-opacity="0.5" stroke-width="1.4" fill="none"/>
<path d="M646.58 244.28H651.38M646.58 247.62H651.38" stroke="#000" stroke-opacity="0.66" stroke-width="1" fill="none"/>
<rect x="652.81" y="230.92" width="7.66" height="21.98" fill="url(#bd1)"/>
<rect x="652.81" y="230.92" width="7.66" height="21.98" fill="none" stroke="#202030" stroke-width="0.7"/>
<path d="M656.63 229.92V231.92" stroke="#000" stroke-opacity="0.5" stroke-width="1.4" fill="none"/>
<path d="M654.24 229.92H659.03M654.24 231.92H659.03" stroke="#000" stroke-opacity="0.66" stroke-width="1" fill="none"/>
<rect x="660.46" y="226.58" width="7.66" height="26.32" fill="url(#bd2)"/>
<rect x="660.46" y="226.58" width="7.66" height="26.32" fill="none" stroke="#202030" stroke-width="0.7"/>
<path d="M664.29 225.24V227.92" stroke="#000" stroke-opacity="0.5" stroke-width="1.4" fill="none"/>
<path d="M661.89 225.24H666.69M661.89 227.92H666.69" stroke="#000" stroke-opacity="0.66" stroke-width="1" fill="none"/>
<rect x="668.12" y="222.57" width="7.66" height="30.33" fill="url(#bd3)"/>
<rect x="668.12" y="222.57" width="7.66" height="30.33" fill="none" stroke="#202030" stroke-width="0.7"/>
<path d="M671.95 218.4V226.75" stroke="#000" stroke-opacity="0.5" stroke-width="1.4" fill="none"/>
<path d="M669.55 218.4H674.35M669.55 226.75H674.35" stroke="#000" stroke-opacity="0.66" stroke-width="1" fill="none"/>
<rect x="373.6" y="4.3" width="306.3" height="248.6" fill="none" stroke="#000" stroke-width="1.5"/>
<path d="M373.6 252.9H378.6" stroke="#000" stroke-width="1.4"/>
<text x="367.6" y="257.7" text-anchor="end" font-size="14" font-weight="bold">0</text>
<path d="M373.6 236.3H376.6" stroke="#000" stroke-width="1.4"/>
<path d="M373.6 219.7H378.6" stroke="#000" stroke-width="1.4"/>
<text x="367.6" y="224.5" text-anchor="end" font-size="14" font-weight="bold">1</text>
<path d="M373.6 203.1H376.6" stroke="#000" stroke-width="1.4"/>
<path d="M373.6 186.5H378.6" stroke="#000" stroke-width="1.4"/>
<text x="367.6" y="191.3" text-anchor="end" font-size="14" font-weight="bold">2</text>
<path d="M373.6 169.9H376.6" stroke="#000" stroke-width="1.4"/>
<path d="M373.6 153.3H378.6" stroke="#000" stroke-width="1.4"/>
<text x="367.6" y="158.1" text-anchor="end" font-size="14" font-weight="bold">3</text>
<path d="M373.6 136.7H376.6" stroke="#000" stroke-width="1.4"/>
<path d="M373.6 120.1H378.6" stroke="#000" stroke-width="1.4"/>
<text x="367.6" y="124.9" text-anchor="end" font-size="14" font-weight="bold">4</text>
<path d="M373.6 103.5H376.6" stroke="#000" stroke-width="1.4"/>
<path d="M373.6 86.9H378.6" stroke="#000" stroke-width="1.4"/>
<text x="367.6" y="91.7" text-anchor="end" font-size="14" font-weight="bold">5</text>
<path d="M373.6 70.3H376.6" stroke="#000" stroke-width="1.4"/>
<path d="M373.6 53.7H378.6" stroke="#000" stroke-width="1.4"/>
<text x="367.6" y="58.5" text-anchor="end" font-size="14" font-weight="bold">6</text>
<path d="M373.6 37.1H376.6" stroke="#000" stroke-width="1.4"/>
<path d="M373.6 20.5H378.6" stroke="#000" stroke-width="1.4"/>
<text x="367.6" y="25.3" text-anchor="end" font-size="14" font-weight="bold">7</text>
<text x="398.2" y="273" text-anchor="middle" font-size="14" font-weight="bold">C7R1</text>
<text x="435.2" y="273" text-anchor="middle" font-size="14" font-weight="bold">C6R2</text>
<text x="472.8" y="273" text-anchor="middle" font-size="14" font-weight="bold">C5R3</text>
<text x="509.3" y="273" text-anchor="middle" font-size="14" font-weight="bold">C4R4</text>
<text x="545.6" y="273" text-anchor="middle" font-size="14" font-weight="bold">C3R5</text>
<text x="581" y="273" text-anchor="middle" font-size="14" font-weight="bold">C2R6</text>
<text x="617.3" y="273" text-anchor="middle" font-size="14" font-weight="bold">C1R7</text>
<text x="652.9" y="274.3" text-anchor="middle" font-size="14" font-weight="bold">CR8</text>
<text transform="translate(355.8 128.1) rotate(-90)" text-anchor="middle" font-size="14.2" font-weight="bold">Flexural strength (MPa)</text>
<rect x="604" y="15.6" width="29.4" height="14.8" fill="url(#bg0)" stroke="#4a4a4a" stroke-width="1.0"/>
<text x="640.4" y="27.8" font-size="14" font-weight="bold">1d</text>
<rect x="604" y="33" width="29.4" height="14.8" fill="url(#bg1)" stroke="#4a4a4a" stroke-width="1.0"/>
<text x="640.4" y="45.2" font-size="14" font-weight="bold">3d</text>
<rect x="604" y="50.5" width="29.4" height="14.8" fill="url(#bg2)" stroke="#4a4a4a" stroke-width="1.0"/>
<text x="640.4" y="62.7" font-size="14" font-weight="bold">7d</text>
<rect x="604" y="67.8" width="29.4" height="14.8" fill="url(#bg3)" stroke="#4a4a4a" stroke-width="1.0"/>
<text x="640.4" y="80" font-size="14" font-weight="bold">28d</text>
<text x="524.2" y="296" text-anchor="middle" font-size="14" font-weight="bold">(b)</text>
</svg>
</body></html>
